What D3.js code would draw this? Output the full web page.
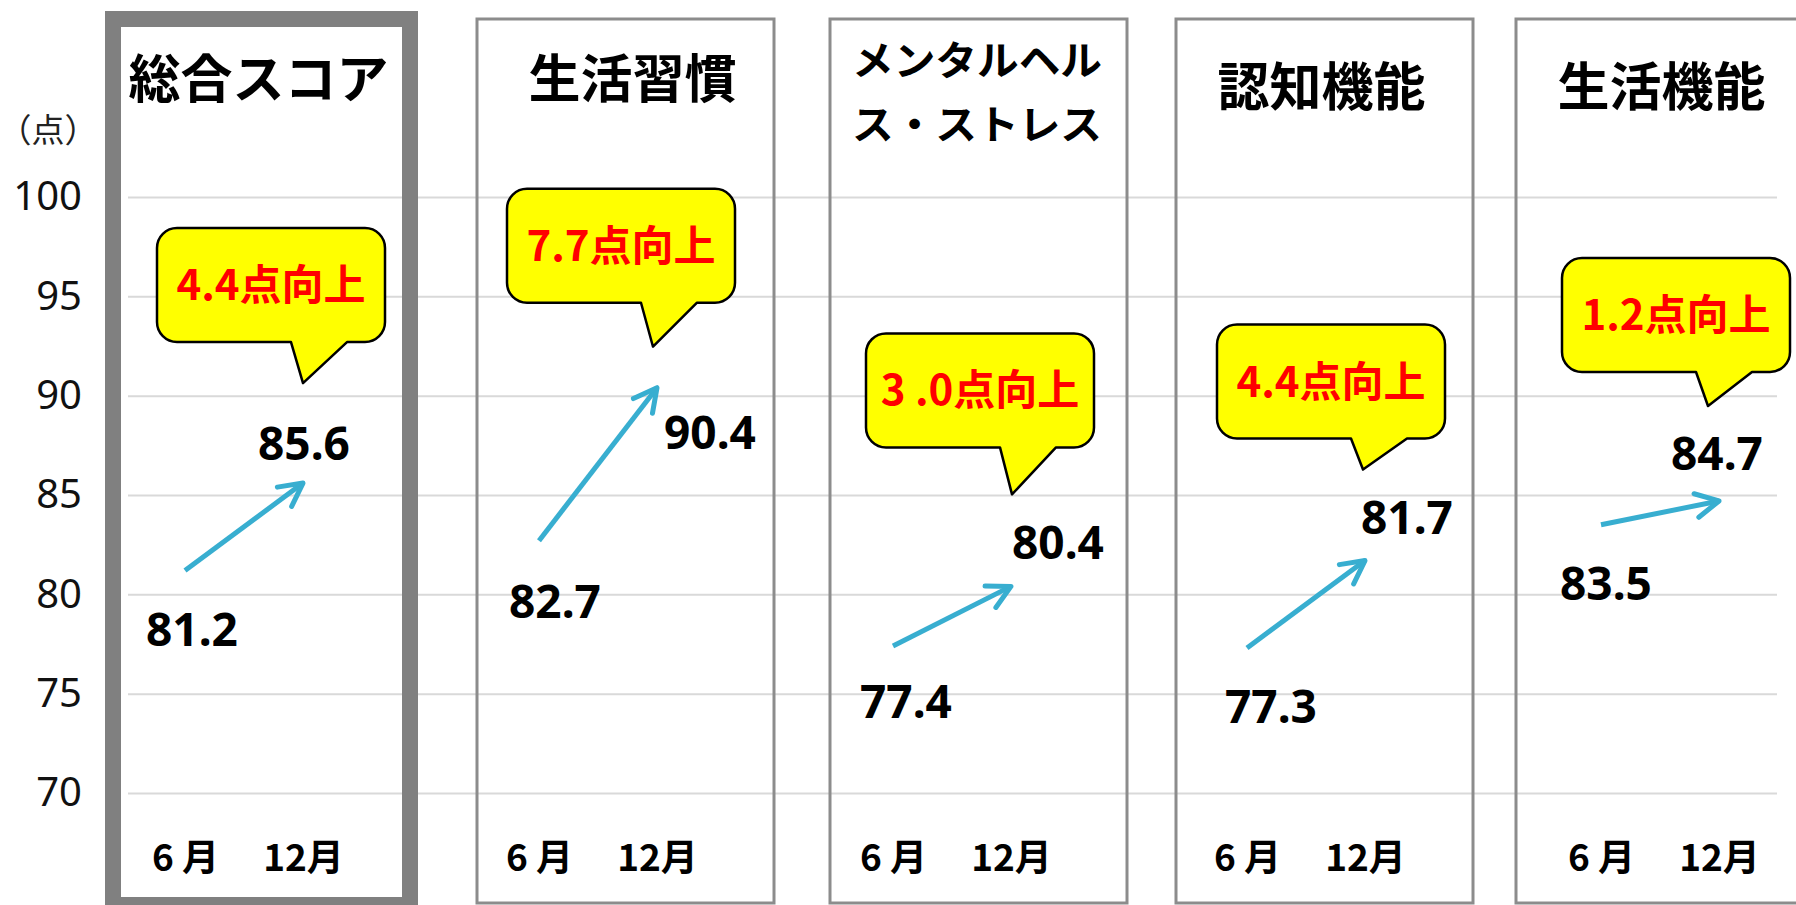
<!DOCTYPE html>
<html>
<head>
<meta charset="utf-8">
<script src="https://cdn.jsdelivr.net/npm/d3@7"></script>
<style>
  body { margin: 0; background: #ffffff; }
  svg { display: block; }
</style>
</head>
<body>
<div id="chart"></div>
<script>
// chart values
const titles = [["総合スコア"], ["生活習慣"], ["メンタルヘル", "ス・ストレス"], ["認知機能"], ["生活機能"]];
const months = ["6 月", "12月"];
const juneScores = [81.2, 82.7, 77.4, 77.3, 83.5];
const decScores = [85.6, 90.4, 80.4, 81.7, 84.7];
const gainLabels = ["4.4点向上", "7.7点向上", "3 .0点向上", "4.4点向上", "1.2点向上"];
const yTicks = [70, 75, 80, 85, 90, 95, 100];
const unitLabel = "（点）";

// layout (hand placed, like the original slide)
const W = 1796, H = 905;
const gridLeft = 128, gridRight = 1777;
const panelLeft = [113, 477, 830, 1176, 1516];
const panelW = 297;
const tailLabelOff = [[7, 76], [16, 77], [13, 72], [24, 75], [5, 75]];
const headLabelOff = [[1, -23], [53, 61], [47, -27], [42, -27], [-2, -31]];
const calloutTip = [[0, -100], [-4, -41], [1, -92], [-2, -91], [-11, -95]];
const calloutStem = [41, 44, 47, 31, 34];

const jpFont = "'Noto Sans CJK JP', 'Noto Sans', sans-serif";
const numFont = "'Noto Sans', 'DejaVu Sans', sans-serif";
const arrowColor = "#38aed0";

let svg = d3.select("#chart")
    .append("svg")
    .attr("width", W)
    .attr("height", H);

// each panel holds 2 slots + 1 empty slot between panels (last slot = 13)
let x = d3.scaleLinear()
    .domain([0, 13])
    .range([185, 1719]);

let y = d3.scaleLinear()
    .domain([70, 100])
    .range([793, 197]);

// arrow head marker
svg.append("defs").append("marker")
    .attr("id", "arrowhead")
    .attr("markerUnits", "userSpaceOnUse")
    .attr("viewBox", "-30 -16 36 32")
    .attr("markerWidth", 36)
    .attr("markerHeight", 32)
    .attr("refX", 0)
    .attr("refY", 0)
    .attr("orient", "auto")
    .append("path")
    .attr("d", "M-23,-12L0,0L-23,12")
    .attr("fill", "none")
    .attr("stroke", arrowColor)
    .attr("stroke-width", 5)
    .attr("stroke-linecap", "round")
    .attr("stroke-linejoin", "round");

// y axis + gridlines
let yAxis = d3.axisLeft(y)
    .tickValues(yTicks)
    .tickSize(-(gridRight - gridLeft))
    .tickPadding(46);

let gy = svg.append("g")
    .attr("transform", "translate(" + gridLeft + ",0)")
    .call(yAxis);
gy.select(".domain").remove();
gy.selectAll(".tick line").attr("stroke", "#d9d9d9").attr("stroke-width", 2);
gy.selectAll(".tick text")
    .attr("font-family", numFont)
    .attr("font-size", 40)
    .attr("fill", "#111");

svg.append("text")
    .attr("x", 48).attr("y", 142)
    .attr("text-anchor", "middle")
    .attr("font-family", jpFont)
    .attr("font-size", 33)
    .attr("fill", "#222")
    .text(unitLabel);

// panel frames
svg.selectAll(".panel")
    .data(titles)
    .enter().append("rect")
    .attr("class", "panel")
    .attr("x", (d, i) => panelLeft[i])
    .attr("y", 19)
    .attr("width", panelW)
    .attr("height", (d, i) => i == 0 ? 886 : 884)
    .attr("fill", "none")
    .attr("stroke", (d, i) => i == 0 ? "#808080" : "#8c8c8c")
    .attr("stroke-width", (d, i) => i == 0 ? 16 : 3);

// titles
titles.forEach(function(lines, i) {
    let cx = panelLeft[i] + panelW / 2;
    if (lines.length == 1) {
        svg.append("text")
            .attr("x", cx + (i == 1 ? 7 : -3))
            .attr("y", i < 2 ? 98 : 106)
            .attr("text-anchor", "middle")
            .attr("font-family", jpFont)
            .attr("font-weight", "bold")
            .attr("font-size", 52)
            .attr("fill", "#000")
            .text(lines[0]);
    } else {
        lines.forEach(function(t, j) {
            svg.append("text")
                .attr("x", panelLeft[i] + 22)
                .attr("y", 75 + j * 64)
                .attr("font-family", jpFont)
                .attr("font-weight", "bold")
                .attr("font-size", 40)
                .attr("textLength", 250)
                .attr("lengthAdjust", "spacingAndGlyphs")
                .attr("fill", "#000")
                .text(t);
        });
    }
});

// arrows from June to December
svg.selectAll(".arrow")
    .data(juneScores)
    .enter().append("line")
    .attr("class", "arrow")
    .attr("x1", (d, i) => x(i * 3))
    .attr("y1", d => y(d))
    .attr("x2", (d, i) => x(i * 3 + 1))
    .attr("y2", (d, i) => y(decScores[i]))
    .attr("stroke", arrowColor)
    .attr("stroke-width", 5)
    .attr("marker-end", "url(#arrowhead)");

// value labels
svg.selectAll(".junelabel")
    .data(juneScores)
    .enter().append("text")
    .attr("class", "junelabel")
    .attr("x", (d, i) => x(i * 3) + tailLabelOff[i][0])
    .attr("y", (d, i) => y(d) + tailLabelOff[i][1])
    .attr("text-anchor", "middle")
    .attr("font-family", numFont)
    .attr("font-weight", "bold")
    .attr("font-size", 46)
    .attr("fill", "#000")
    .text(d => d.toFixed(1));

svg.selectAll(".declabel")
    .data(decScores)
    .enter().append("text")
    .attr("class", "declabel")
    .attr("x", (d, i) => x(i * 3 + 1) + headLabelOff[i][0])
    .attr("y", (d, i) => y(d) + headLabelOff[i][1])
    .attr("text-anchor", "middle")
    .attr("font-family", numFont)
    .attr("font-weight", "bold")
    .attr("font-size", 46)
    .attr("fill", "#000")
    .text(d => d.toFixed(1));

// speech bubbles
function bubblePath(tx, ty, stem) {
    let r = 20;
    let L = tx - 146, R = L + 228;
    let B = ty - stem, T = B - 114;
    let a = tx - 12, b = tx + 44;
    return "M" + (L + r) + "," + T +
        "H" + (R - r) + "A" + r + "," + r + " 0 0 1 " + R + "," + (T + r) +
        "V" + (B - r) + "A" + r + "," + r + " 0 0 1 " + (R - r) + "," + B +
        "H" + b + "L" + tx + "," + ty + "L" + a + "," + B +
        "H" + (L + r) + "A" + r + "," + r + " 0 0 1 " + L + "," + (B - r) +
        "V" + (T + r) + "A" + r + "," + r + " 0 0 1 " + (L + r) + "," + T + "Z";
}

let bubbles = svg.selectAll(".bubble")
    .data(gainLabels)
    .enter().append("g")
    .attr("class", "bubble");

bubbles.append("path")
    .attr("d", function(d, i) {
        let tx = x(i * 3 + 1) + calloutTip[i][0];
        let ty = y(decScores[i]) + calloutTip[i][1];
        return bubblePath(tx, ty, calloutStem[i]);
    })
    .attr("fill", "#ffff00")
    .attr("stroke", "#000")
    .attr("stroke-width", 2.5)
    .attr("stroke-linejoin", "round");

bubbles.append("text")
    .attr("x", (d, i) => x(i * 3 + 1) + calloutTip[i][0] - 146 + 114)
    .attr("y", (d, i) => y(decScores[i]) + calloutTip[i][1] - calloutStem[i] - 57 + 15)
    .attr("text-anchor", "middle")
    .attr("font-family", jpFont)
    .attr("font-weight", "bold")
    .attr("font-size", 42)
    .attr("fill", "#ff0000")
    .text(d => d);

// month axis
let monthSlots = [];
juneScores.forEach((d, i) => { monthSlots.push(i * 3, i * 3 + 1); });

let xAxis = d3.axisBottom(x)
    .tickValues(monthSlots)
    .tickFormat((d, i) => months[i % 2])
    .tickSize(0);

let gx = svg.append("g")
    .attr("transform", "translate(0,871)")
    .call(xAxis);
gx.select(".domain").remove();
gx.selectAll(".tick text")
    .attr("y", 0)
    .attr("dy", 0)
    .attr("font-family", jpFont)
    .attr("font-weight", "bold")
    .attr("font-size", 37)
    .attr("fill", "#000");
</script>
</body>
</html>
